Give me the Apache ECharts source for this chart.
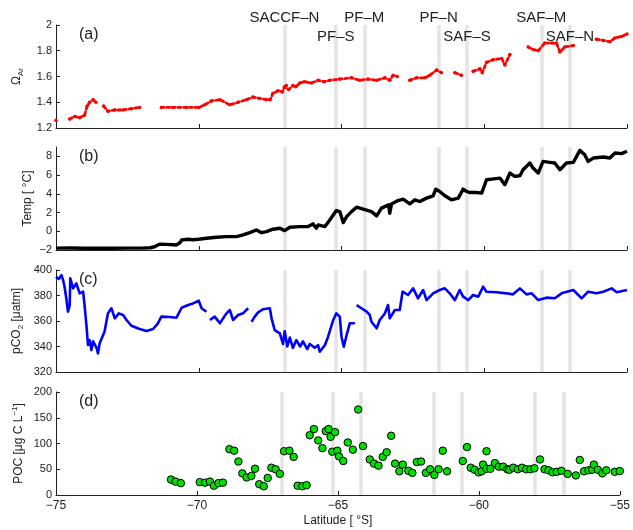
<!DOCTYPE html>
<html><head><meta charset="utf-8">
<script src="https://cdn.jsdelivr.net/npm/echarts@6/dist/echarts.min.js"></script>
<style>html,body{margin:0;padding:0;background:#fff}#c{width:633px;height:530px}</style>
</head><body><div id="c"></div>
<script>
// ---------- DATA ----------
const latTicks = [-75, -70, -65, -60, -55];
const frontNames = ['SACCF\u2013N','PF\u2013S','PF\u2013M','PF\u2013N','SAF\u2013S','SAF\u2013M','SAF\u2013N'];
const frontLat = [-67.0, -65.2, -64.2, -61.6, -60.6, -58.0, -57.0];

const omegaTicks = [1.2, 1.4, 1.6, 1.8, 2];
const omegaPts = [[-75.0,1.26],[-74.8,null],[-74.52,1.27],[-74.34,1.29],[-74.17,1.28],[-74.0,1.30],[-73.91,1.37],[-73.82,1.40],[-73.7,1.42],[-73.6,1.40],[-73.45,null],[-73.33,1.37],[-73.18,1.33],[-72.94,1.34],[-72.65,1.34],[-72.36,1.35],[-72.07,1.36],[-71.7,null],[-71.31,1.36],[-70.9,1.36],[-70.43,1.36],[-70.0,1.36],[-69.79,1.38],[-69.56,1.41],[-69.26,1.42],[-68.91,1.38],[-68.62,1.40],[-68.33,1.42],[-68.1,1.44],[-67.86,1.43],[-67.63,1.42],[-67.5,1.42],[-67.4,1.47],[-67.22,1.49],[-67.07,1.48],[-67.0,1.52],[-66.93,1.53],[-66.85,1.50],[-66.7,1.53],[-66.6,1.52],[-66.46,1.55],[-66.29,1.56],[-66.05,1.55],[-65.82,1.57],[-65.6,1.56],[-65.41,1.57],[-65.06,1.58],[-64.65,1.59],[-64.36,1.57],[-64.07,1.58],[-63.77,1.57],[-63.48,1.59],[-63.31,1.57],[-63.19,1.61],[-63.05,1.60],[-62.85,null],[-62.61,1.57],[-62.37,1.59],[-62.08,1.59],[-61.91,1.61],[-61.67,1.65],[-61.5,1.63],[-61.25,null],[-61.03,1.63],[-60.8,1.61],[-60.6,null],[-60.39,1.64],[-60.15,1.66],[-60.07,1.63],[-59.92,1.71],[-59.69,1.73],[-59.39,1.74],[-59.28,1.69],[-59.1,1.77],[-58.8,null],[-58.46,1.83],[-58.29,1.81],[-58.11,1.80],[-57.88,1.86],[-57.64,1.86],[-57.47,1.86],[-57.35,1.79],[-57.18,1.83],[-56.88,1.84],[-56.5,null],[-56.07,1.89],[-55.83,1.88],[-55.6,1.87],[-55.42,1.90],[-55.19,1.91],[-55.0,1.93]];

const tempTicks = [-2, 0, 2, 4, 6, 8];
const tempPts = [[-75,-1.8],[-74.5,-1.78],[-74,-1.82],[-73.5,-1.8],[-73,-1.82],[-72.5,-1.8],[-72,-1.8],[-71.7,-1.76],[-71.55,-1.65],[-71.45,-1.5],[-71.37,-1.38],[-71.13,-1.4],[-70.9,-1.44],[-70.78,-1.46],[-70.65,-1.2],[-70.6,-0.93],[-70.37,-0.85],[-70.2,-0.9],[-70.0,-0.85],[-69.73,-0.75],[-69.38,-0.64],[-69.03,-0.57],[-68.68,-0.57],[-68.45,-0.39],[-68.21,-0.15],[-67.98,0.14],[-67.8,-0.15],[-67.63,-0.04],[-67.4,0.22],[-67.16,0.32],[-66.99,0.07],[-66.81,0.43],[-66.46,0.5],[-66.17,0.5],[-66.0,0.79],[-65.88,0.32],[-65.82,0.68],[-65.58,0.5],[-65.41,1.21],[-65.18,2.21],[-65.06,2.1],[-64.94,0.93],[-64.82,1.57],[-64.65,2.1],[-64.47,2.57],[-64.24,2.36],[-63.95,2.1],[-63.77,1.64],[-63.6,2.47],[-63.35,2.82],[-63.31,1.93],[-63.25,2.9],[-63.02,3.28],[-62.84,3.43],[-62.61,2.93],[-62.43,3.36],[-62.26,3.18],[-62.02,3.54],[-61.79,3.79],[-61.7,4.5],[-61.56,4.25],[-61.38,3.79],[-61.15,3.36],[-60.91,3.54],[-60.74,4.5],[-60.62,4.25],[-60.5,4.14],[-60.27,4.14],[-60.09,4.07],[-59.92,5.5],[-59.74,5.57],[-59.45,5.68],[-59.28,4.97],[-59.1,6.22],[-58.93,5.86],[-58.75,5.93],[-58.64,6.57],[-58.4,7.29],[-58.29,6.75],[-58.11,6.22],[-57.94,7.46],[-57.71,7.36],[-57.53,7.29],[-57.35,6.57],[-57.12,7.29],[-56.88,7.36],[-56.65,8.64],[-56.48,8.18],[-56.36,7.46],[-56.18,7.82],[-55.83,7.93],[-55.6,7.82],[-55.42,8.36],[-55.19,8.29],[-55.0,8.54]];

const pco2Ticks = [320, 340, 360, 380, 400];
const pco2Pts = [[-75,394.7],[-74.9,393],[-74.81,396],[-74.75,392],[-74.7,386.9],[-74.64,377.8],[-74.58,367.3],[-74.52,372.5],[-74.5,393.5],[-74.4,385.6],[-74.29,389.5],[-74.17,381.7],[-74.05,383],[-74.0,372.5],[-73.93,355.5],[-73.88,341.2],[-73.82,345],[-73.76,337.2],[-73.7,344],[-73.64,342.5],[-73.58,339],[-73.53,334.6],[-73.47,342.5],[-73.3,351.6],[-73.18,366],[-73.06,370],[-72.94,362.1],[-72.8,366],[-72.65,364.7],[-72.53,360.8],[-72.36,356.3],[-72.07,353.7],[-71.83,352.1],[-71.6,353.7],[-71.43,358.2],[-71.31,363.4],[-71.02,363.1],[-70.78,362.6],[-70.6,370.4],[-70.37,372.5],[-70.2,373.8],[-70.0,375.9],[-69.9,370],[-69.73,367.3],[-69.67,null],[-69.61,360.8],[-69.44,363.4],[-69.26,358.2],[-69.03,366],[-68.91,368.6],[-68.8,360.8],[-68.62,364.7],[-68.45,366],[-68.27,370],[-68.21,null],[-68.15,359.4],[-68.04,363.4],[-67.92,366.8],[-67.75,369.2],[-67.51,370],[-67.45,362.1],[-67.34,352.9],[-67.16,350.3],[-67.05,342],[-66.99,352],[-66.9,340],[-66.81,347],[-66.7,339],[-66.58,345],[-66.45,340],[-66.35,344],[-66.2,338],[-66.11,342],[-65.94,339],[-65.82,341],[-65.76,335.9],[-65.58,341.2],[-65.47,347.7],[-65.29,360.8],[-65.18,366],[-65.06,363.4],[-65.0,347.7],[-64.92,339.8],[-64.82,349],[-64.71,358.2],[-64.53,358.2],[-64.5,null],[-64.47,372.5],[-64.3,370],[-64.12,367.3],[-64.01,364.7],[-63.95,359.4],[-63.77,354.3],[-63.66,360.8],[-63.48,366],[-63.37,372.5],[-63.31,362.1],[-63.13,368.6],[-62.96,368.6],[-62.86,383],[-62.67,380.4],[-62.49,385.6],[-62.32,377.8],[-62.14,384.3],[-62.02,376.4],[-61.79,381.7],[-61.56,384.3],[-61.38,385.6],[-61.21,381.7],[-61.03,376.4],[-60.86,384.3],[-60.74,379.1],[-60.56,376.4],[-60.39,380.4],[-60.21,379.1],[-60.04,386.9],[-59.92,383],[-59.57,382.5],[-59.22,381.7],[-58.99,380.9],[-58.75,385.6],[-58.52,380.9],[-58.34,381.7],[-58.11,376.4],[-57.82,378.3],[-57.53,377.8],[-57.29,381.7],[-56.88,384.3],[-56.59,377.8],[-56.36,383],[-56.07,381.7],[-55.83,383],[-55.54,385.6],[-55.36,382.5],[-55.0,384.3]];

const pocTicks = [0, 50, 100, 150, 200];
const pocPts = [[-70.92,30],[-70.76,26],[-70.57,23],[-69.9,25],[-69.71,24],[-69.54,26],[-69.4,18],[-69.24,23],[-69.08,24],[-68.85,89],[-68.68,86],[-68.53,65],[-68.39,42],[-68.24,34],[-68.07,37],[-67.94,51],[-67.79,21],[-67.63,17],[-67.49,33],[-67.36,53],[-67.21,50],[-67.06,41],[-66.91,85],[-66.72,86],[-66.57,74],[-66.43,18],[-66.26,17],[-66.11,19],[-66.0,116],[-65.85,128],[-65.7,106],[-65.55,91],[-65.43,124],[-65.33,128],[-65.26,113],[-65.2,84],[-65.1,122],[-65.02,86],[-64.96,75],[-64.81,66],[-64.65,102],[-64.47,88],[-64.28,166],[-64.11,95],[-63.87,69],[-63.72,61],[-63.56,57],[-63.41,74],[-63.27,83],[-63.11,115],[-62.97,61],[-62.82,46],[-62.7,59],[-62.5,47],[-62.36,43],[-62.2,64],[-62.05,65],[-61.88,43],[-61.73,50],[-61.58,39],[-61.43,50],[-61.28,86],[-61.13,46],[-60.57,66],[-60.42,93],[-60.29,53],[-60.15,49],[-60.01,44],[-59.9,46],[-59.85,59],[-59.73,85],[-59.73,51],[-59.59,51],[-59.43,62],[-59.29,55],[-59.14,55],[-58.99,50],[-58.92,49],[-58.78,53],[-58.62,50],[-58.47,53],[-58.32,50],[-58.17,50],[-58.03,52],[-57.83,69],[-57.67,50],[-57.53,48],[-57.39,44],[-57.24,45],[-57.07,47],[-56.85,41],[-56.56,38],[-56.42,68],[-56.27,46],[-56.11,48],[-55.98,49],[-55.92,59],[-55.78,49],[-55.62,42],[-55.48,48],[-55.18,45],[-55.0,46.5],[-54.97,38]];

// ---------- CHART ----------
const gap = p => p.map(d => d[1] === null ? [d[0], '-'] : d);
const minus = v => (v < 0 ? '\u2212' + Math.abs(v) : String(v));
const TXT = '#222';
const FONT = '"Liberation Sans", Arial, Helvetica, sans-serif';
const lowerRow = new Set(['PF\u2013S', 'SAF\u2013S', 'SAF\u2013N']);

const panels = [
  {top: 25,  h: 103, min: 1.2, max: 2,   ticks: omegaTicks, name: '{n|\u03A9}{s|Ar}', gap: 31, tag: '(a)'},
  {top: 147, h: 103, min: -2,  max: 9,   ticks: tempTicks,  name: 'Temp [ \u00B0C]', gap: 22, tag: '(b)'},
  {top: 270, h: 102, min: 320, max: 400, ticks: pco2Ticks,  name: '{n|pCO}{s|2}{n| [\u03BCatm]}', gap: 31, tag: '(c)'},
  {top: 392, h: 103, min: 0,   max: 200, ticks: pocTicks,   name: '{n|POC [\u03BCg C L}{p|\u22121}{n|]}', gap: 29, tag: '(d)'}
];
const rich = {
  n: {fontSize: 12, color: TXT, fontFamily: FONT, lineHeight: 16},
  s: {fontSize: 8, color: TXT, fontFamily: FONT, lineHeight: 16, padding: [8, 0, 0, 0]},
  p: {fontSize: 8, color: TXT, fontFamily: FONT, lineHeight: 16, padding: [0, 0, 8, 0]}
};

const grid = [], xAxis = [], yAxis = [], series = [], title = [];
panels.forEach((p, i) => {
  const last = i === panels.length - 1;
  grid.push({left: 56, right: 6, top: p.top, height: p.h, containLabel: false});
  xAxis.push({
    type: 'value', gridIndex: i, min: -75, max: -55, interval: 5,
    axisLine: {onZero: false, lineStyle: {color: TXT, width: 1}},
    axisTick: {inside: true, length: 4, lineStyle: {color: TXT}, customValues: latTicks},
    axisLabel: {show: last, color: TXT, fontSize: 12, fontFamily: FONT, margin: 5, formatter: minus, customValues: latTicks},
    splitLine: {show: false},
    name: last ? 'Latitude [ \u00B0S]' : '', nameLocation: 'middle', nameGap: 20, nameMoveOverlap: false,
    nameTextStyle: {color: TXT, fontSize: 12, fontFamily: FONT}
  });
  yAxis.push({
    type: 'value', gridIndex: i, min: p.min, max: p.max,
    axisLine: {show: true, onZero: false, lineStyle: {color: TXT, width: 1}},
    axisTick: {show: true, inside: true, length: 4, lineStyle: {color: TXT}, customValues: p.ticks},
    axisLabel: {color: TXT, fontSize: 11, fontFamily: FONT, margin: 4, formatter: minus, customValues: p.ticks},
    splitLine: {show: false},
    name: p.name, nameLocation: 'middle', nameGap: p.gap, nameRotate: 90, nameMoveOverlap: false,
    nameTextStyle: {color: TXT, fontSize: 12, fontFamily: FONT, rich: rich}
  });
  title.push({text: p.tag, left: 79, top: p.top + 2, padding: 0,
    textStyle: {fontSize: 16, fontWeight: 'normal', color: TXT, fontFamily: FONT}});
  series.push({
    type: 'line', xAxisIndex: i, yAxisIndex: i, data: [], silent: true, z: 1,
    markLine: {
      z: 1, symbol: 'none', silent: true, animation: false,
      lineStyle: {color: '#e4e4e4', width: 3.5, type: 'solid'},
      emphasis: {disabled: true},
      label: {show: false},
      data: frontLat.map((x, k) => ({
        xAxis: x, name: frontNames[k],
        label: {
          show: i === 0, position: 'end', formatter: '{b}',
          distance: lowerRow.has(frontNames[k]) ? -19 : 0,
          color: TXT, fontSize: 15, fontFamily: FONT
        }
      }))
    }
  });
});

series.push({
  type: 'line', xAxisIndex: 0, yAxisIndex: 0, data: gap(omegaPts), z: 3,
  showSymbol: true, symbol: 'circle', symbolSize: 3.5, connectNulls: false,
  itemStyle: {color: '#ff0000'},
  lineStyle: {color: '#ff0000', width: 2.8, type: 'dotted', cap: 'round'}
});
series.push({
  type: 'line', xAxisIndex: 1, yAxisIndex: 1, data: tempPts, z: 3,
  showSymbol: false, lineStyle: {color: '#000', width: 3.4, join: 'round'}
});
series.push({
  type: 'line', xAxisIndex: 2, yAxisIndex: 2, data: gap(pco2Pts), z: 3,
  showSymbol: false, connectNulls: false,
  lineStyle: {color: '#0000ff', width: 2.6, join: 'round'}
});
series.push({
  type: 'scatter', xAxisIndex: 3, yAxisIndex: 3, data: pocPts, z: 3,
  symbol: 'circle', symbolSize: 7.5,
  itemStyle: {color: '#00e000', borderColor: '#000', borderWidth: 1, opacity: 1}
});

const chart = echarts.init(document.getElementById('c'), null, {renderer: 'canvas'});
chart.setOption({
  animation: false, backgroundColor: '#fff',
  textStyle: {fontFamily: FONT},
  title, grid, xAxis, yAxis, series
});
</script></body></html>
